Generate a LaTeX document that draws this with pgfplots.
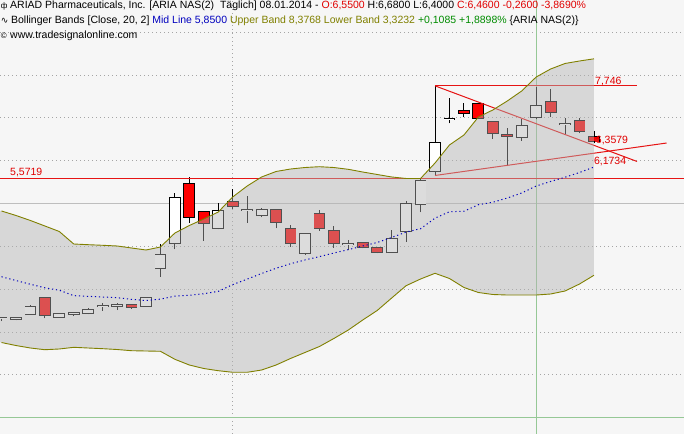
\documentclass[border=0pt]{standalone}
\usepackage{pgfplots}
\usepackage{pgfplotstable}
\pgfplotsset{compat=1.18}
\usepackage{fontspec}
\setmainfont{Liberation Sans}
\newfontfamily\dejavu{DejaVu Sans}
\definecolor{bgc}{RGB}{246,246,246}
\definecolor{ovl}{RGB}{179,179,179}
\definecolor{cred}{RGB}{255,0,0}
\definecolor{tred}{RGB}{225,0,0}
\definecolor{lred}{RGB}{230,20,20}
\definecolor{bolive}{RGB}{128,128,0}
\definecolor{mblue}{RGB}{0,0,190}
\definecolor{tgreen}{RGB}{0,140,0}
\definecolor{gridc}{RGB}{165,165,165}
\definecolor{vgreen}{RGB}{150,200,150}
\definecolor{lgrey}{RGB}{190,190,190}
\tikzset{tl/.style={font=\fontsize{10.5bp}{12bp}\selectfont, inner sep=0pt, anchor=base west}}

\pgfplotstableread{
i up lo mid
0 4.824 1.753 3.289
1 4.719 1.683 3.201
2 4.602 1.625 3.114
3 4.474 1.585 3.030
4 4.345 1.602 2.974
5 4.053 1.641 2.847
6 4.037 1.625 2.831
7 4.023 1.609 2.816
8 4.007 1.590 2.799
9 3.960 1.562 2.761
10 3.913 1.555 2.734
11 3.983 1.548 2.766
12 4.310 1.361 2.836
13 4.485 1.228 2.857
14 4.637 1.146 2.892
15 4.800 1.095 2.948
16 5.151 1.058 3.105
17 5.407 1.058 3.233
18 5.618 1.111 3.365
19 5.746 1.228 3.487
20 5.804 1.380 3.592
21 5.839 1.520 3.680
22 5.858 1.660 3.759
23 5.839 1.847 3.843
24 5.797 2.045 3.921
25 5.734 2.279 4.007
26 5.676 2.501 4.089
27 5.618 2.792 4.205
28 5.583 3.080 4.332
29 5.583 3.236 4.410
30 5.944 3.369 4.657
31 6.365 3.248 4.807
32 6.598 3.038 4.818
33 7.018 2.921 4.970
34 7.182 2.874 5.028
35 7.392 2.862 5.127
36 7.626 2.862 5.244
37 7.952 2.862 5.407
38 8.139 2.886 5.513
39 8.268 2.956 5.612
40 8.326 3.119 5.723
41 8.3768 3.3232 5.850
}\band

% candle: index, open, high, low, close, body colour
\newcommand\cdl[6]{%
\addplot[black, line width=0.9bp] coordinates {(#1,#4) (#1,#3)};%
\addplot[black, line width=11.8bp, shorten <=-0.9bp, shorten >=-0.9bp] coordinates {(#1,#2) (#1,#5)};%
\addplot[#6, line width=10bp] coordinates {(#1,#2) (#1,#5)};}

\begin{document}
\begin{tikzpicture}
\begin{axis}[
  scale only axis, width=684bp, height=434bp,
  xmin=-0.104, xmax=47.23, ymin=-0.383, ymax=9.75,
  axis line style={draw=none}, xtick=\empty, ytick=\empty,
  axis background/.style={fill=bgc},
  gridl/.style={gridc, line width=0.8bp, dash pattern=on 1bp off 3bp},
  redl/.style={draw=lred, color=lred, line width=1bp, solid},
]
% grid
\addplot[gridl] coordinates {(-0.1,1) (47.2,1)};
\addplot[gridl] coordinates {(-0.1,2) (47.2,2)};
\addplot[gridl] coordinates {(-0.1,3) (47.2,3)};
\addplot[gridl] coordinates {(-0.1,4) (47.2,4)};
\addplot[gridl] coordinates {(-0.1,6) (47.2,6)};
\addplot[gridl] coordinates {(-0.1,7) (47.2,7)};
\addplot[gridl] coordinates {(-0.1,8) (47.2,8)};
\addplot[gridl] coordinates {(-0.1,9) (47.2,9)};
\addplot[gridl] coordinates {(16,-0.38) (16,9.74)};
\addplot[lgrey, line width=0.8bp] coordinates {(-0.1,5) (47.2,5)};
\addplot[vgreen, line width=0.8bp] coordinates {(-0.1,0) (47.2,0)};
\addplot[vgreen, line width=0.8bp] coordinates {(37,-0.38) (37,9.74)};
% candles
\cdl{0}{2.3185}{2.356}{2.255}{2.318}{white}
\cdl{1}{2.31}{2.356}{2.27}{2.325}{white}
\cdl{2}{2.412}{2.629}{2.412}{2.575}{white}
\cdl{3}{2.785}{2.80}{2.318}{2.395}{cred}
\cdl{4}{2.356}{2.435}{2.342}{2.419}{white}
\cdl{5}{2.42}{2.466}{2.372}{2.435}{white}
\cdl{6}{2.442}{2.552}{2.412}{2.505}{white}
\cdl{7}{2.5995}{2.669}{2.496}{2.599}{white}
\cdl{8}{2.605}{2.669}{2.512}{2.62}{white}
\cdl{9}{2.622}{2.645}{2.536}{2.575}{cred}
\cdl{10}{2.606}{2.809}{2.589}{2.785}{white}
\cdl{11}{3.486}{4.053}{3.29}{3.796}{white}
\cdl{12}{4.084}{5.251}{3.93}{5.12}{white}
\cdl{13}{5.454}{5.625}{4.551}{4.677}{cred}
\cdl{14}{4.793}{4.817}{4.13}{4.537}{cred}
\cdl{15}{4.434}{5.003}{4.396}{4.831}{white}
\cdl{16}{5.027}{5.33}{4.863}{4.94}{cred}
\cdl{17}{4.8545}{5.174}{4.551}{4.854}{white}
\cdl{18}{4.723}{4.887}{4.677}{4.84}{white}
\cdl{19}{4.847}{4.87}{4.42}{4.56}{cred}
\cdl{20}{4.396}{4.497}{3.99}{4.07}{cred}
\cdl{21}{3.836}{4.303}{3.796}{4.28}{white}
\cdl{22}{4.747}{4.847}{4.357}{4.434}{cred}
\cdl{23}{4.364}{4.48}{3.967}{4.07}{cred}
\cdl{24}{4.0465}{4.147}{3.913}{4.046}{white}
\cdl{25}{4.084}{4.107}{3.953}{3.976}{cred}
\cdl{26}{3.953}{3.99}{3.836}{3.859}{cred}
\cdl{27}{3.859}{4.38}{3.85}{4.163}{white}
\cdl{28}{4.357}{5.057}{4.107}{4.98}{white}
\cdl{29}{4.98}{5.587}{4.793}{5.531}{white}
\cdl{30}{5.765}{7.746}{5.664}{6.404}{white}
\cdl{31}{6.9725}{7.455}{6.871}{6.972}{white}
\cdl{32}{7.166}{7.352}{7.011}{7.105}{cred}
\cdl{33}{7.315}{7.352}{6.988}{6.988}{cred}
\cdl{34}{6.895}{6.895}{6.505}{6.638}{cred}
\cdl{35}{6.59}{6.755}{5.874}{6.565}{cred}
\cdl{36}{6.558}{6.972}{6.458}{6.815}{white}
\cdl{37}{7.025}{7.726}{6.965}{7.275}{white}
\cdl{38}{7.376}{7.665}{7.025}{7.142}{cred}
\cdl{39}{6.8485}{6.988}{6.598}{6.848}{white}
\cdl{40}{6.932}{6.988}{6.638}{6.699}{cred}
\cdl{41}{6.55}{6.68}{6.40}{6.46}{cred}
% red drawing lines
\addplot[redl] coordinates {(-0.1,5.5719) (23.5,5.5719) (47.2,5.5719)};
\addplot[redl] coordinates {(30,7.746) (37,7.746) (43.98,7.746)};
\addplot[redl] coordinates {(30,7.746) (43.98,5.98)};
\addplot[redl] coordinates {(30,5.653) (46.03,6.411)};
% band overlay
\addplot[fill=ovl, fill opacity=0.45, draw=none] coordinates {
(-0.1,4.83)(0,4.824)(1,4.719)(2,4.602)(3,4.474)(4,4.345)(5,4.053)(6,4.037)(7,4.023)(8,4.007)(9,3.96)(10,3.913)(11,3.983)(12,4.31)(13,4.485)(14,4.637)(15,4.80)(16,5.151)(17,5.407)(18,5.618)(19,5.746)(20,5.804)(21,5.839)(22,5.858)(23,5.839)(24,5.797)(25,5.734)(26,5.676)(27,5.618)(28,5.583)(29,5.583)(30,5.944)(31,6.365)(32,6.598)(33,7.018)(34,7.182)(35,7.392)(36,7.626)(37,7.952)(38,8.139)(39,8.268)(40,8.326)(41,8.3768)
(41,3.3232)(40,3.119)(39,2.956)(38,2.886)(37,2.862)(36,2.862)(35,2.862)(34,2.874)(33,2.921)(32,3.038)(31,3.248)(30,3.369)(29,3.236)(28,3.08)(27,2.792)(26,2.501)(25,2.279)(24,2.045)(23,1.847)(22,1.66)(21,1.52)(20,1.38)(19,1.228)(18,1.111)(17,1.058)(16,1.058)(15,1.095)(14,1.146)(13,1.228)(12,1.361)(11,1.548)(10,1.555)(9,1.562)(8,1.59)(7,1.609)(6,1.625)(5,1.641)(4,1.602)(3,1.585)(2,1.625)(1,1.683)(0,1.753)(-0.1,1.76)
};
% band lines
\addplot[bolive, line width=0.9bp] table[x=i, y=up] {\band};
\addplot[bolive, line width=0.9bp] table[x=i, y=lo] {\band};
\addplot[mblue, line width=1bp, dash pattern=on 1.2bp off 2.8bp] table[x=i, y=mid] {\band};
% last price marker
\addplot[only marks, mark=square*, mark size=1.3bp, lred] coordinates {(41.2,6.48)};
% labels
\node[tl, text=tred] at (axis cs:0.588,5.641) {5,5719};
\node[tl, text=tred] at (axis cs:41.07,7.788) {7,746};
\node[tl, text=tred] at (axis cs:41.12,6.41) {6,3579};
\node[tl, text=tred] at (axis cs:40.99,5.919) {6,1734};
% header
\node[tl, font=\fontsize{8bp}{9bp}\selectfont] at (rel axis cs:0.001,0.97926) {ф};
\node[tl] at (rel axis cs:0.0146,0.97926) {ARIAD Pharmaceuticals, Inc. [ARIA NAS(2)\ \ Täglich] 08.01.2014 - \textcolor{tred}{O:6,5500} H:6,6800 L:6,4000 \textcolor{tred}{C:6,4600 -0,2600 -3,8690\%}};
\node[tl, font=\dejavu\fontsize{9bp}{10bp}\selectfont] at (rel axis cs:0.001,0.9447) {∿};
\node[tl] at (rel axis cs:0.016,0.9447) {Bollinger Bands [Close, 20, 2] \textcolor{mblue}{Mid Line 5,8500} \textcolor{bolive}{Upper Band 8,3768 Lower Band 3,3232} \textcolor{tgreen}{+0,1085 +1,8898\%} \{ARIA NAS(2)\}};
\node[tl, font=\fontsize{8bp}{9bp}\selectfont] at (rel axis cs:0.001,0.91014) {©};
\node[tl] at (rel axis cs:0.0146,0.91014) {www.tradesignalonline.com};
\end{axis}
\end{tikzpicture}
\end{document}
